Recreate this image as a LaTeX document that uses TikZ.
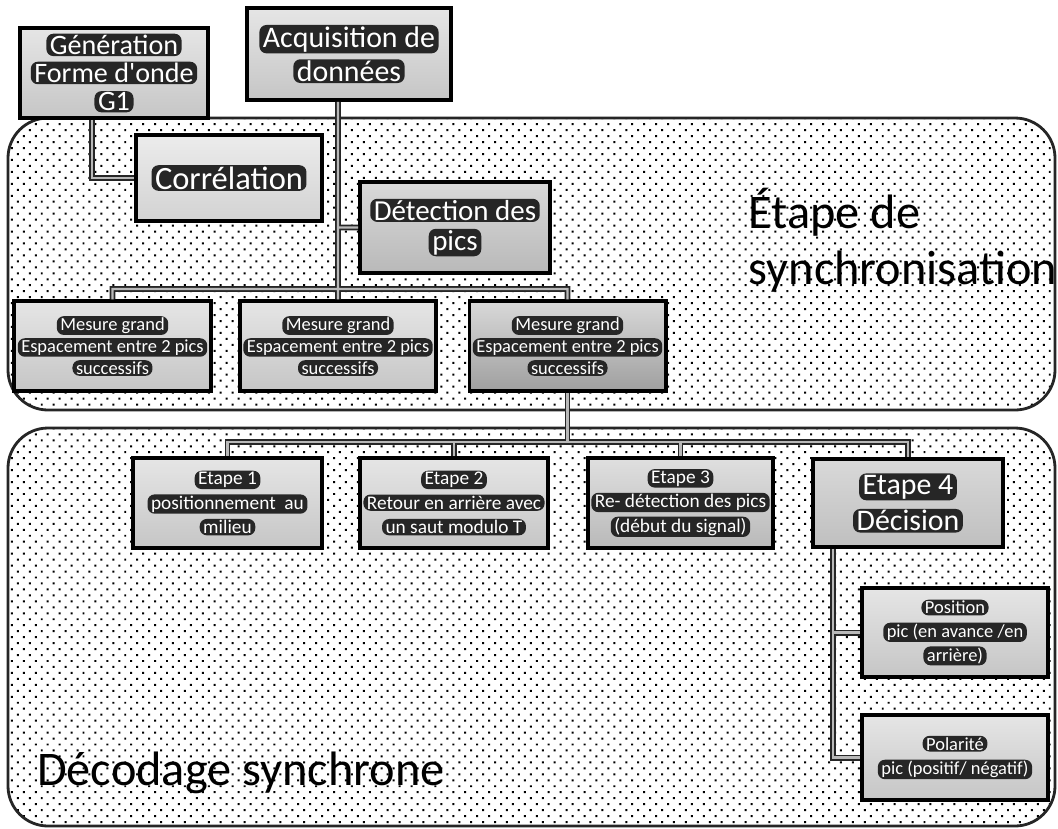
\documentclass[tikz,border=0pt]{standalone}
\usepackage{fontspec}
\setmainfont{Carlito}
\usetikzlibrary{patterns.meta}

% dark pill behind each white text line
\tikzset{
    halo/.style={
        anchor=base, draw=none, fill=black!85, text=white, rounded corners=4pt,
        minimum width=0pt, minimum height=0pt, line width=0.4pt,
        inner xsep=2pt, inner ysep=0.8pt
    }
}
\newcommand{\boxline}[1]{\tikz[baseline]\node[halo]{#1};}

\begin{document}
\begin{tikzpicture}[
    font=\fontsize{10.5}{12.5}\selectfont,
    zone/.style={
        rectangle, rounded corners=0.8cm, draw=black!85, line width=1.6pt,
        pattern={Dots[radius=0.8pt, distance=4.8pt, angle=45]}, pattern color=black,
        inner sep=0pt
    },
    zonelabel/.style={
        anchor=west, align=left, text=black,
        font=\fontsize{27.5}{32}\selectfont
    },
    stepbox/.style={
        rectangle, draw=black, line width=2pt,
        top color=gray!20, bottom color=gray!45,
        text=white, align=center, inner sep=2pt,
        minimum width=3.78cm, minimum height=1.8cm
    },
    bigbox/.style={stepbox, font=\fontsize{16.5}{17}\selectfont},
    link/.style={draw=gray!55, line width=1.3pt, preaction={draw=black!85, line width=3.4pt}}
]
\useasboundingbox (0,0) rectangle (21.16,-16.56);

% ---------------------------------------------------------------------
% 1. ZONES
% ---------------------------------------------------------------------
\node[zone, minimum width=20.94cm, minimum height=5.84cm] (SyncZone) at (10.63, -5.28) {};
\node[zone, minimum width=20.94cm, minimum height=7.96cm] (DecodeZone) at (10.63, -12.54) {};

\node[zonelabel] (SyncLabel) at (14.85, -4.80) {Étape de\\synchronisation};
\node[zonelabel] (DecodeLabel) at (0.62, -15.46) {Décodage synchrone};

% ---------------------------------------------------------------------
% 2. TOP: INPUTS
% ---------------------------------------------------------------------
\node[bigbox, minimum width=3.76cm, font=\fontsize{16}{16}\selectfont] (Gen) at (2.28, -1.46)
    {\boxline{Génération}\\\boxline{Forme d\textquotesingle onde}\\\boxline{G1}};
\node[bigbox, minimum width=4.08cm, minimum height=1.84cm, font=\fontsize{17}{19.5}\selectfont] (Acq) at (6.98, -1.08)
    {\boxline{Acquisition de}\\\boxline{données}};

% ---------------------------------------------------------------------
% 3. SYNCHRONISATION
% ---------------------------------------------------------------------
\node[bigbox, minimum width=3.72cm, minimum height=1.72cm, font=\fontsize{18.5}{20}\selectfont,
    top color=gray!15, bottom color=gray!35] (Corr) at (4.58, -3.56) {\boxline{Corrélation}};
\node[bigbox, minimum width=3.8cm, minimum height=1.82cm, top color=gray!30, bottom color=gray!55] (Det) at (9.10, -4.55)
    {\boxline{Détection des}\\\boxline{pics}};

\node[stepbox] (Mes1) at (2.25, -6.92)
    {\boxline{Mesure grand}\\\boxline{Espacement entre 2 pics}\\\boxline{successifs}};
\node[stepbox, minimum width=3.84cm] (Mes2) at (6.76, -6.92)
    {\boxline{Mesure grand}\\\boxline{Espacement entre 2 pics}\\\boxline{successifs}};
\node[stepbox, top color=gray!30, bottom color=gray!75] (Mes3) at (11.35, -6.92)
    {\boxline{Mesure grand}\\\boxline{Espacement entre 2 pics}\\\boxline{successifs}};

% ---------------------------------------------------------------------
% 4. DECODAGE
% ---------------------------------------------------------------------
\node[stepbox, font=\fontsize{11}{14}\selectfont] (Et1) at (4.55, -10.06)
    {\boxline{Etape 1}\\\boxline{positionnement\ \ au}\\\boxline{milieu}};
\node[stepbox, minimum width=3.76cm, font=\fontsize{11}{14}\selectfont] (Et2) at (9.08, -10.06)
    {\boxline{Etape 2}\\\boxline{Retour en arrière avec}\\\boxline{un saut modulo T}};
\node[stepbox, minimum width=3.70cm, font=\fontsize{11}{14}\selectfont, top color=gray!25, bottom color=gray!55] (Et3) at (13.61, -10.06)
    {\boxline{Etape 3}\\\boxline{Re- détection des pics}\\\boxline{(début du signal)}};
\node[bigbox, minimum width=3.80cm, minimum height=1.76cm, font=\fontsize{17}{21}\selectfont,
    top color=gray!30, bottom color=gray!50] (Et4) at (18.16, -10.06)
    {\boxline{Etape 4}\\\boxline{Décision}};

\node[stepbox, minimum width=3.72cm, minimum height=1.78cm, font=\fontsize{10.5}{13.5}\selectfont] (Pos) at (19.10, -12.65)
    {\boxline{Position}\\\boxline{pic (en avance /en}\\\boxline{arrière)}};
\node[stepbox, minimum width=3.72cm, minimum height=1.70cm, font=\fontsize{10.5}{14}\selectfont] (Pol) at (19.10, -15.15)
    {\boxline{Polarité}\\\boxline{pic (positif/ négatif)}};

% ---------------------------------------------------------------------
% CONNECTORS
% ---------------------------------------------------------------------
\coordinate (busSync) at (6.76, -5.78);
\coordinate (tapDet) at (6.76, -4.55);
\coordinate (busDecode) at (11.35, -8.84);

\draw[link] ([xshift=-0.44cm]Gen.south) |- (Corr.west);
\draw[link] ([xshift=-0.22cm]Acq.south) -- (Mes2.north)
    (busSync) -| (Mes1.north) (busSync) -| (Mes3.north)
    (tapDet) -- (Det.west);
\draw[link] (Mes3.south) -- (busDecode)
    (busDecode) -| (Et1.north) (busDecode) -| (Et2.north)
    (busDecode) -| (Et3.north) (busDecode) -| (Et4.north);
\draw[link] ([xshift=-1.5cm]Et4.south) |- (Pos.west)
    ([xshift=-1.5cm]Et4.south) |- (Pol.west);

\end{tikzpicture}
\end{document}
